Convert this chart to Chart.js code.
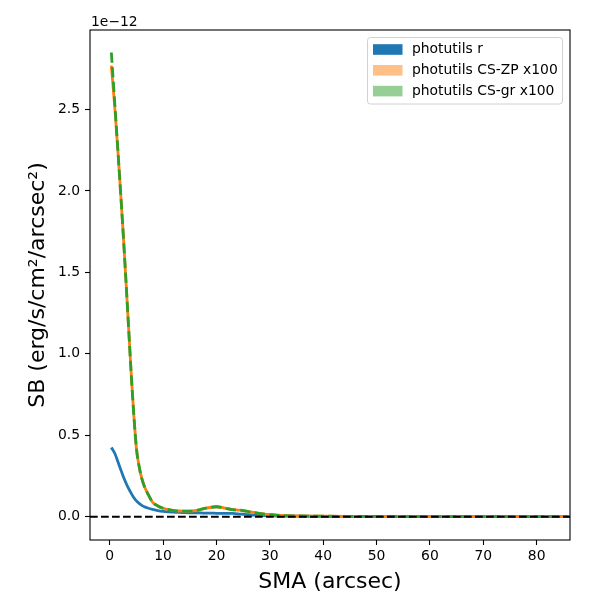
<!DOCTYPE html>
<html>
<head>
<meta charset="utf-8">
<script src="https://cdn.jsdelivr.net/npm/chart.js@4.4.0/dist/chart.umd.min.js"></script>
<style>
  body { margin: 0; background: #fff; }
  #wrap { width: 600px; height: 600px; }
</style>
</head>
<body>
<div id="wrap"><canvas id="sbChart"></canvas></div>
<script>
// surface brightness profiles, values in units of 1e-12 erg/s/cm2/arcsec2
const sma = [0.3, 1, 1.5, 2, 2.5, 3, 3.5, 4, 4.5, 5, 5.5, 6, 6.5, 7,
    8, 9, 10, 11, 12, 13, 14, 15, 16, 17, 18, 19, 20, 21, 22, 23, 24, 25, 26, 27, 28, 29, 30,
    32, 35, 40, 45, 50, 55, 60, 65, 70, 75, 80, 86];
const sbR = [0.425, 0.385, 0.34, 0.295, 0.25, 0.21, 0.175, 0.145, 0.118, 0.097, 0.082, 0.07, 0.061, 0.055,
    0.045, 0.038, 0.033, 0.030, 0.028, 0.026, 0.025, 0.024, 0.023, 0.023, 0.022, 0.022, 0.021, 0.021, 0.021, 0.020, 0.018, 0.015, 0.012, 0.010, 0.009, 0.007, 0.006,
    0.004, 0.003, 0.002, 0.0015, 0.001, 0.0008, 0.0006, 0.0005, 0.0004, 0.0003, 0.0003, 0.0002];
const sbZP = [2.77, 2.49, 2.26, 2.01, 1.75, 1.47, 1.18, 0.89, 0.63, 0.42, 0.31, 0.235, 0.185, 0.15,
    0.09, 0.066, 0.052, 0.044, 0.038, 0.035, 0.034, 0.034, 0.037, 0.044, 0.052, 0.058, 0.061, 0.057, 0.049, 0.043, 0.041, 0.038, 0.031, 0.026, 0.021, 0.016, 0.013,
    0.008, 0.005, 0.003, 0.002, 0.0015, 0.001, 0.0008, 0.0006, 0.0005, 0.0004, 0.0003, 0.0003];
const sbGr = [2.85, 2.51, 2.26, 2.01, 1.75, 1.47, 1.18, 0.89, 0.63, 0.42, 0.31, 0.235, 0.185, 0.15,
    0.09, 0.066, 0.052, 0.044, 0.038, 0.035, 0.034, 0.034, 0.037, 0.044, 0.052, 0.058, 0.061, 0.057, 0.049, 0.043, 0.041, 0.038, 0.031, 0.026, 0.021, 0.016, 0.013,
    0.008, 0.005, 0.003, 0.002, 0.0015, 0.001, 0.0008, 0.0006, 0.0005, 0.0004, 0.0003, 0.0003];
const seriesNames = ["photutils r", "photutils CS-ZP x100", "photutils CS-gr x100"];
const xTickValues = [0, 10, 20, 30, 40, 50, 60, 70, 80];
const yTickValues = [0, 0.5, 1.0, 1.5, 2.0, 2.5];
const xRange = [-3.7, 86.25];
const yRange = [-0.143, 2.988];
const zeroLevel = 0;

const tickFont = { family: "'DejaVu Sans'", size: 13.9 };
const titleFont = { family: "'DejaVu Sans'", size: 22 };

function toPoints(ys) {
    return sma.map((x, i) => ({ x: x, y: ys[i] }));
}

// zero line, frame, offset text and matplotlib-like legend
const extras = {
    id: "extras",
    afterDatasetsDraw(chart) {
        const { ctx, chartArea: a, scales } = chart;
        const y0 = scales.y.getPixelForValue(zeroLevel);
        ctx.save();
        ctx.beginPath();
        ctx.rect(a.left, a.top, a.right - a.left, a.bottom - a.top);
        ctx.clip();
        ctx.beginPath();
        ctx.setLineDash([7.7, 3.3]);
        ctx.lineWidth = 2.1;
        ctx.strokeStyle = "#000";
        ctx.moveTo(a.left, y0);
        ctx.lineTo(a.right, y0);
        ctx.stroke();
        ctx.restore();
    },
    afterDraw(chart) {
        const { ctx, chartArea: a } = chart;
        ctx.save();
        ctx.lineWidth = 1.1;
        ctx.strokeStyle = "#000";
        ctx.strokeRect(a.left, a.top, a.right - a.left, a.bottom - a.top);

        ctx.font = "13.9px 'DejaVu Sans'";
        ctx.fillStyle = "#000";
        ctx.textBaseline = "alphabetic";
        ctx.fillText("1e\u221212", a.left + 1, a.top - 4);

        // legend box
        const bw = 195, bh = 66.5;
        const bx = a.right - 7.5 - bw, by = a.top + 7.5;
        ctx.beginPath();
        ctx.roundRect(bx, by, bw, bh, 3);
        ctx.fillStyle = "rgba(255,255,255,0.8)";
        ctx.fill();
        ctx.strokeStyle = "#d0d0d0";
        ctx.lineWidth = 1;
        ctx.stroke();
        chart.data.datasets.forEach((ds, i) => {
            const cy = by + 12 + i * 20.8;
            ctx.globalAlpha = ds.patchAlpha;
            ctx.fillStyle = ds.borderColor;
            ctx.fillRect(bx + 5.5, cy - 5.3, 29.5, 10.6);
            ctx.globalAlpha = 1;
            ctx.fillStyle = "#000";
            ctx.textBaseline = "middle";
            ctx.fillText(ds.label, bx + 44.5, cy);
        });
        ctx.restore();
    }
};

const ctx = document.getElementById("sbChart").getContext("2d");
new Chart(ctx, {
    type: "line",
    data: {
        datasets: [
            {
                label: seriesNames[0],
                data: toPoints(sbR),
                borderColor: "#1f77b4",
                borderWidth: 2.8,
                patchAlpha: 1,
                order: 2,
            },
            {
                label: seriesNames[1],
                data: toPoints(sbZP),
                borderColor: "#ff7f0e",
                borderWidth: 2.8,
                patchAlpha: 0.5,
                order: 1,
            },
            {
                label: seriesNames[2],
                data: toPoints(sbGr),
                borderColor: "#2ca02c",
                borderWidth: 2.8,
                borderDash: [10.3, 4.4],
                patchAlpha: 0.5,
                order: 0,
            },
        ],
    },
    options: {
        responsive: true,
        maintainAspectRatio: false,
        devicePixelRatio: 1,
        animation: false,
        layout: { padding: { top: 30, right: 30, left: 0, bottom: 0 } },
        elements: {
            point: { radius: 0 },
            line: { tension: 0, cubicInterpolationMode: "monotone", fill: false },
        },
        plugins: {
            legend: { display: false },
            tooltip: { enabled: false },
        },
        scales: {
            x: {
                type: "linear",
                min: xRange[0],
                max: xRange[1],
                afterFit: (s) => { s.height = 60; },
                afterBuildTicks: (s) => { s.ticks = xTickValues.map((v) => ({ value: v })); },
                grid: { drawOnChartArea: false, drawTicks: true, tickLength: 5, color: "#000", tickWidth: 1.1 },
                border: { display: false },
                ticks: { font: tickFont, color: "#000", padding: 3, maxRotation: 0, autoSkip: false },
                title: { display: true, text: "SMA (arcsec)", font: titleFont, color: "#000", padding: { top: 0, bottom: 5 } },
            },
            y: {
                type: "linear",
                min: yRange[0],
                max: yRange[1],
                afterFit: (s) => { s.width = 90; },
                afterBuildTicks: (s) => { s.ticks = yTickValues.map((v) => ({ value: v })); },
                grid: { drawOnChartArea: false, drawTicks: true, tickLength: 5, color: "#000", tickWidth: 1.1 },
                border: { display: false },
                ticks: {
                    font: tickFont,
                    color: "#000",
                    padding: 5,
                    autoSkip: false,
                    callback: (v) => v.toFixed(1),
                },
                title: { display: true, text: "SB (erg/s/cm\u00b2/arcsec\u00b2)", font: titleFont, color: "#000", padding: { top: 25, bottom: 0 } },
            },
        },
    },
    plugins: [extras],
});
</script>
</body>
</html>
